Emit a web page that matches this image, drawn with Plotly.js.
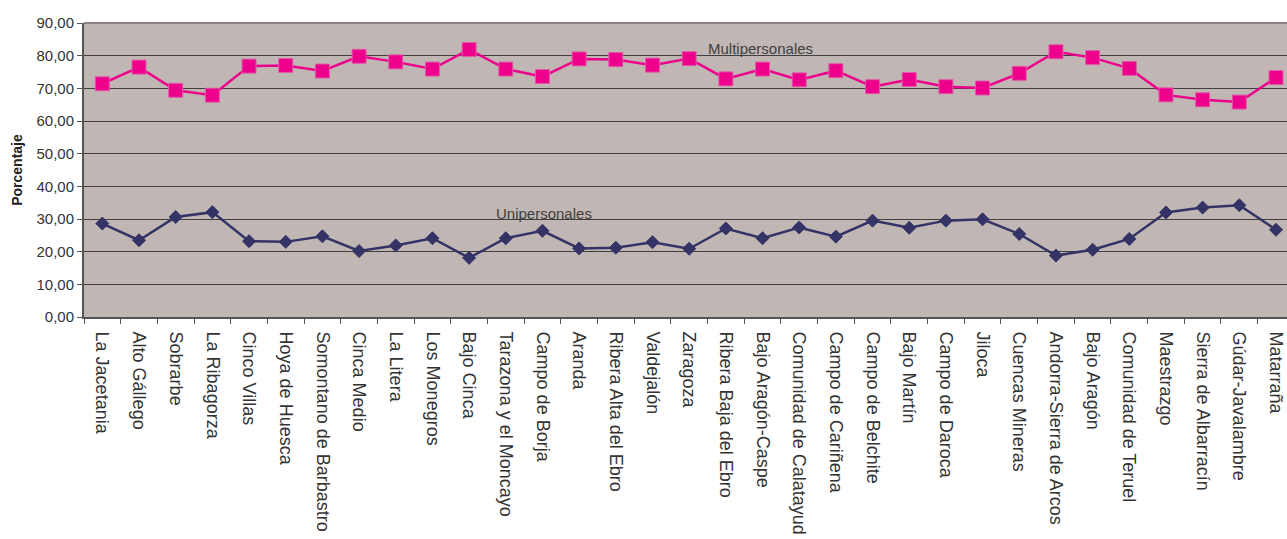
<!DOCTYPE html>
<html>
<head>
<meta charset="utf-8">
<script src="https://cdn.plot.ly/plotly-3.0.1.min.js"></script>
<style>
html,body{margin:0;padding:0;background:#fff;overflow:hidden;}
#chart{width:1287px;height:539px;}
</style>
</head>
<body>
<div id="chart"></div>
<script>
var comarcas = ["La Jacetania","Alto Gállego","Sobrarbe","La Ribagorza","Cinco Villas","Hoya de Huesca","Somontano de Barbastro","Cinca Medio","La Litera","Los Monegros","Bajo Cinca","Tarazona y el Moncayo","Campo de Borja","Aranda","Ribera Alta del Ebro","Valdejalón","Zaragoza","Ribera Baja del Ebro","Bajo Aragón-Caspe","Comunidad de Calatayud","Campo de Cariñena","Campo de Belchite","Bajo Martín","Campo de Daroca","Jiloca","Cuencas Mineras","Andorra-Sierra de Arcos","Bajo Aragón","Comunidad de Teruel","Maestrazgo","Sierra de Albarracín","Gúdar-Javalambre","Matarraña"];

var multipersonales = [71.4,76.5,69.4,67.9,76.8,77.0,75.3,79.8,78.1,75.9,81.9,75.9,73.6,79.0,78.8,77.1,79.1,72.9,75.9,72.6,75.4,70.5,72.7,70.5,70.1,74.6,81.2,79.4,76.1,68.0,66.5,65.8,73.3];

var unipersonales = [28.6,23.5,30.6,32.1,23.2,23.0,24.7,20.2,21.9,24.1,18.1,24.1,26.4,21.0,21.2,22.9,20.9,27.1,24.1,27.4,24.6,29.5,27.3,29.5,29.9,25.4,18.8,20.6,23.9,32.0,33.5,34.2,26.7];

var yTicks = [0,10,20,30,40,50,60,70,80,90];

var FONT = 'Arial, "Liberation Sans", sans-serif';

var traces = [
  {
    type: 'scatter', mode: 'lines+markers', name: 'Multipersonales',
    x: comarcas, y: multipersonales,
    line: {color: '#EC008C', width: 2.5},
    marker: {symbol: 'square', size: 14, color: '#EC008C', line: {color: '#E35AA8', width: 1}},
    cliponaxis: true
  },
  {
    type: 'scatter', mode: 'lines+markers', name: 'Unipersonales',
    x: comarcas, y: unipersonales,
    line: {color: '#333366', width: 2.5},
    marker: {symbol: 'diamond', size: 10, color: '#333366', line: {color: '#333366', width: 1}},
    cliponaxis: true
  }
];

var layout = {
  width: 1287, height: 539,
  margin: {l: 84, r: 0, t: 23, b: 222, pad: 0},
  paper_bgcolor: '#ffffff',
  plot_bgcolor: '#C0B7B4',
  separators: ',.',
  showlegend: false,
  font: {family: FONT, color: '#333333'},
  xaxis: {
    type: 'category',
    range: [-0.5, 32.3],
    tickangle: 90,
    tickson: 'boundaries',
    ticks: 'outside', ticklen: 5, tickcolor: '#555555', tickwidth: 1,
    ticklabelstandoff: 9,
    showline: true, linecolor: '#555555', linewidth: 2,
    showgrid: false, zeroline: false,
    tickfont: {family: FONT, size: 18, color: '#333333'},
    automargin: false,
    fixedrange: true
  },
  yaxis: {
    range: [0, 90],
    tickvals: yTicks,
    tickformat: '.2f',
    ticks: 'outside', ticklen: 5, tickcolor: '#555555', tickwidth: 1,
    showline: true, linecolor: '#555555', linewidth: 2,
    showgrid: true, gridcolor: '#3f3f3f', gridwidth: 1,
    zeroline: false,
    tickfont: {family: FONT, size: 15, color: '#333333'},
    title: {text: '<b>Porcentaje</b>', font: {family: FONT, size: 14, color: '#222222'}, standoff: 11},
    automargin: false,
    fixedrange: true
  },
  shapes: [
    {type: 'line', xref: 'paper', yref: 'paper', x0: 0, x1: 1, y0: 1, y1: 1,
     line: {color: '#8C8280', width: 2}}
  ],
  annotations: [
    {x: 17.95, y: 82.3, xref: 'x', yref: 'y', text: 'Multipersonales', showarrow: false,
     font: {family: FONT, size: 15, color: '#404040'}},
    {x: 12.05, y: 31.7, xref: 'x', yref: 'y', text: 'Unipersonales', showarrow: false,
     font: {family: FONT, size: 15, color: '#404040'}}
  ]
};

Plotly.newPlot('chart', traces, layout, {displayModeBar: false, staticPlot: true});
</script>
</body>
</html>
